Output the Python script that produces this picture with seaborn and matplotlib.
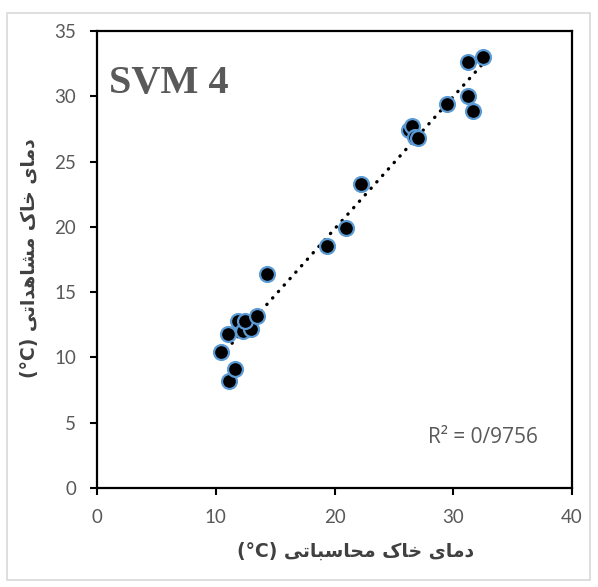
import matplotlib
matplotlib.use('Agg')
import matplotlib.pyplot as plt
import seaborn as sns
import pandas as pd
from matplotlib.patches import Rectangle

# values
calc_temp = [10.4, 11.0, 11.1, 11.6, 11.9, 12.3, 13.0, 12.5, 13.5, 14.3, 19.4, 21.0,
             22.2, 26.3, 26.5, 26.8, 27.0, 29.5, 31.2, 31.2, 31.7, 32.5]
obs_temp = [10.4, 11.8, 8.2, 9.1, 12.8, 12.0, 12.2, 12.8, 13.2, 16.4, 18.5, 19.9,
            23.3, 27.4, 27.7, 26.9, 26.8, 29.4, 32.6, 30.0, 28.9, 33.0]
x_ticks = [0, 10, 20, 30, 40]
y_ticks = [0, 5, 10, 15, 20, 25, 30, 35]
model_name = 'SVM 4'
r2_text = 'R² = 0/9756'
x_label = 'دمای خاک محاسباتی'
y_label = 'دمای خاک مشاهداتی'

# contextual forms (isolated, final, initial, medial) for the letters used
FORMS = {
    'د': ('\uFEA9', '\uFEAA', None, None),
    'ا': ('\uFE8D', '\uFE8E', None, None),
    'م': ('\uFEE1', '\uFEE2', '\uFEE3', '\uFEE4'),
    'ی': ('\uFBFC', '\uFBFD', '\uFBFE', '\uFBFF'),
    'خ': ('\uFEA5', '\uFEA6', '\uFEA7', '\uFEA8'),
    'ک': ('\uFB8E', '\uFB8F', '\uFB90', '\uFB91'),
    'ح': ('\uFEA1', '\uFEA2', '\uFEA3', '\uFEA4'),
    'س': ('\uFEB1', '\uFEB2', '\uFEB3', '\uFEB4'),
    'ب': ('\uFE8F', '\uFE90', '\uFE91', '\uFE92'),
    'ت': ('\uFE95', '\uFE96', '\uFE97', '\uFE98'),
    'ش': ('\uFEB5', '\uFEB6', '\uFEB7', '\uFEB8'),
    'ه': ('\uFEE9', '\uFEEA', '\uFEEB', '\uFEEC'),
}


def shape_rtl(text):
    out = []
    for i, ch in enumerate(text):
        if ch not in FORMS:
            out.append(ch)
            continue
        prev = text[i - 1] if i > 0 else ''
        nxt = text[i + 1] if i + 1 < len(text) else ''
        join_prev = prev in FORMS and FORMS[prev][2] is not None
        join_next = nxt in FORMS and FORMS[ch][2] is not None
        iso, fin, ini, med = FORMS[ch]
        if join_prev and join_next:
            out.append(med)
        elif join_prev:
            out.append(fin)
        elif join_next:
            out.append(ini)
        else:
            out.append(iso)
    return ''.join(out)[::-1]


df = pd.DataFrame({'calc': calc_temp, 'obs': obs_temp})

sns.set_style('white')
plt.rcParams['font.family'] = ['Lato', 'DejaVu Sans']

fig = plt.figure(figsize=(5.98, 5.87), dpi=100)
fig.patches.append(Rectangle((7 / 598, 1 - 580 / 587), 583 / 598, 567 / 587,
                             transform=fig.transFigure, fill=False,
                             edgecolor='#D9D9D9', linewidth=1.2))
ax = fig.add_axes([97 / 598, 1 - 488 / 587, 475 / 598, 457 / 587])

sns.regplot(data=df, x='calc', y='obs', scatter=False, ci=None, ax=ax,
            line_kws={'color': 'black', 'linewidth': 2.4,
                      'linestyle': (0, (0.1, 2.5)), 'dash_capstyle': 'round'})
sns.scatterplot(data=df, x='calc', y='obs', ax=ax, s=115, color='black',
                edgecolor='#5B9BD5', linewidth=1.6, zorder=3)

ax.set_xlim(0, 40)
ax.set_ylim(0, 35)
ax.set_xticks(x_ticks)
ax.set_yticks(y_ticks)
ax.tick_params(direction='out', length=5, width=1.5, color='black',
               labelsize=13.5, labelcolor='#595959', pad=10)
ax.tick_params(axis='x', bottom=True)
ax.tick_params(axis='y', left=True)
for sp in ax.spines.values():
    sp.set_color('black')
    sp.set_linewidth(1.6)

ax.set_xlabel('')
ax.set_ylabel('')
lab_font = {'family': ['DejaVu Sans'], 'weight': 'bold', 'size': 13.5, 'color': '#404040'}
fig.text(356 / 598, 1 - 551 / 587, '(°C) ' + shape_rtl(x_label),
         ha='center', va='center', **lab_font)
fig.text(30 / 598, 1 - 258 / 587, '(°C) ' + shape_rtl(y_label), rotation=90,
         ha='center', va='center', **lab_font)

ax.text(0.025, 0.885, model_name, transform=ax.transAxes, family='Liberation Serif',
        weight='bold', size=29, color='#595959', ha='left', va='center')
ax.text(27.9, 3.9, r2_text, family=['Open Sans'], fontsize=15, color='#595959',
        ha='left', va='center')

fig.savefig('out.png', dpi=100)
